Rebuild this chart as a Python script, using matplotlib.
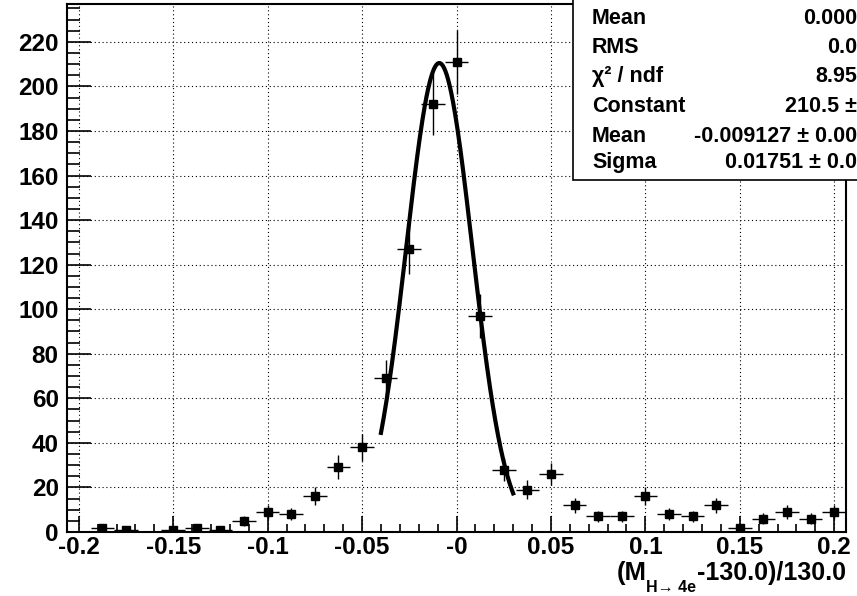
import matplotlib
matplotlib.use("Agg")
import matplotlib.pyplot as plt
import numpy as np
from matplotlib.patches import Rectangle
from matplotlib.ticker import MultipleLocator, FixedLocator, FixedFormatter

# histogram: 33 bins from -0.20625 to 0.20625
bin_edges = np.linspace(-0.20625, 0.20625, 34)
counts = [0, 2, 1, 0, 1, 2, 1, 5, 9, 8, 16, 29, 38, 69, 127, 192, 211,
          97, 28, 19, 26, 12, 7, 7, 16, 8, 7, 12, 2, 6, 9, 6, 9]

# gaussian fit result
fit_const = 210.5
fit_mean = -0.009127
fit_sigma = 0.01751
fit_range = (-0.04, 0.03)

x_ticks = [-0.2, -0.15, -0.1, -0.05, 0.0, 0.05, 0.1, 0.15, 0.2]
x_labels = ["-0.2", "-0.15", "-0.1", "-0.05", "-0", "0.05", "0.1", "0.15", "0.2"]
y_ticks = list(range(0, 221, 20))

stat_names = ["Mean", "RMS", "\u03c7\u00b2 / ndf", "Constant", "Mean", "Sigma"]
stat_values = ["0.000", "0.0", "8.95", "210.5 \u00b1", "-0.009127 \u00b1 0.00", "0.01751 \u00b1 0.0"]

W, H = 857, 596
plt.rcParams['font.family'] = ['Liberation Sans', 'DejaVu Sans']
plt.rcParams['font.weight'] = 'bold'

fig = plt.figure(figsize=(W / 100, H / 100), dpi=100)
ax = fig.add_axes([67 / W, 1 - 532 / H, (846 - 67) / W, (532 - 4) / H])

centers = 0.5 * (bin_edges[1:] + bin_edges[:-1])
half = 0.5 * (bin_edges[1] - bin_edges[0])
counts = np.array(counts, dtype=float)
m = counts > 0
ax.errorbar(centers[m], counts[m], yerr=np.sqrt(counts[m]), xerr=half,
            fmt="s", color="black", ms=5.5, elinewidth=1.0, capsize=0, zorder=3)

xf = np.linspace(fit_range[0], fit_range[1], 300)
yf = fit_const * np.exp(-0.5 * ((xf - fit_mean) / fit_sigma) ** 2)
ax.plot(xf, yf, color="black", lw=3.0, zorder=4)

ax.set_xlim(bin_edges[0], bin_edges[-1])
ax.set_ylim(0, 237)

ax.xaxis.set_major_locator(FixedLocator(x_ticks))
ax.xaxis.set_major_formatter(FixedFormatter(x_labels))
ax.xaxis.set_minor_locator(MultipleLocator(0.01))
ax.yaxis.set_major_locator(FixedLocator(y_ticks))
ax.yaxis.set_minor_locator(MultipleLocator(5))

ax.tick_params(axis="both", which="both", direction="in", top=False, right=False,
               color="black", width=1.2)
ax.tick_params(axis="y", which="major", length=17, labelsize=17.5, pad=6)
ax.tick_params(axis="y", which="minor", length=9.5)
ax.tick_params(axis="x", which="major", length=11.5, labelsize=17.5, pad=3)
ax.tick_params(axis="x", which="minor", length=5.8)
for lab in ax.get_xticklabels() + ax.get_yticklabels():
    lab.set_fontweight("bold")

ax.grid(True, which="major", color="black", linestyle=(0, (1, 2.5)), linewidth=0.8)
ax.set_axisbelow(True)
for s in ax.spines.values():
    s.set_linewidth(1.5)

# x axis title
fig.text(617 / W, 1 - 580 / H, "(M", fontsize=18.5, fontweight="bold", ha="left", va="baseline")
fig.text(646 / W, 1 - 592 / H, "H\u2192 4e", fontsize=11.5, fontweight="bold", ha="left", va="baseline")
fig.text(846 / W, 1 - 580 / H, "-130.0)/130.0", fontsize=18, fontweight="bold", ha="right", va="baseline")

# stats box (cut off at the right edge)
box = Rectangle((573 / W, 1 - 180 / H), 400 / W, 200 / H, transform=fig.transFigure,
                facecolor="white", edgecolor="black", lw=1.2, zorder=10, clip_on=False)
fig.patches.append(box)
baselines = [24, 53, 82, 112, 142, 168]
for name, val, b in zip(stat_names, stat_values, baselines):
    fig.text(592 / W, 1 - b / H, name, fontsize=15.5, fontweight="bold", ha="left",
             va="baseline", zorder=11)
    fig.text(857 / W, 1 - b / H, val, fontsize=15.5, fontweight="bold", ha="right",
             va="baseline", zorder=11)

fig.savefig("out.png", dpi=100)
